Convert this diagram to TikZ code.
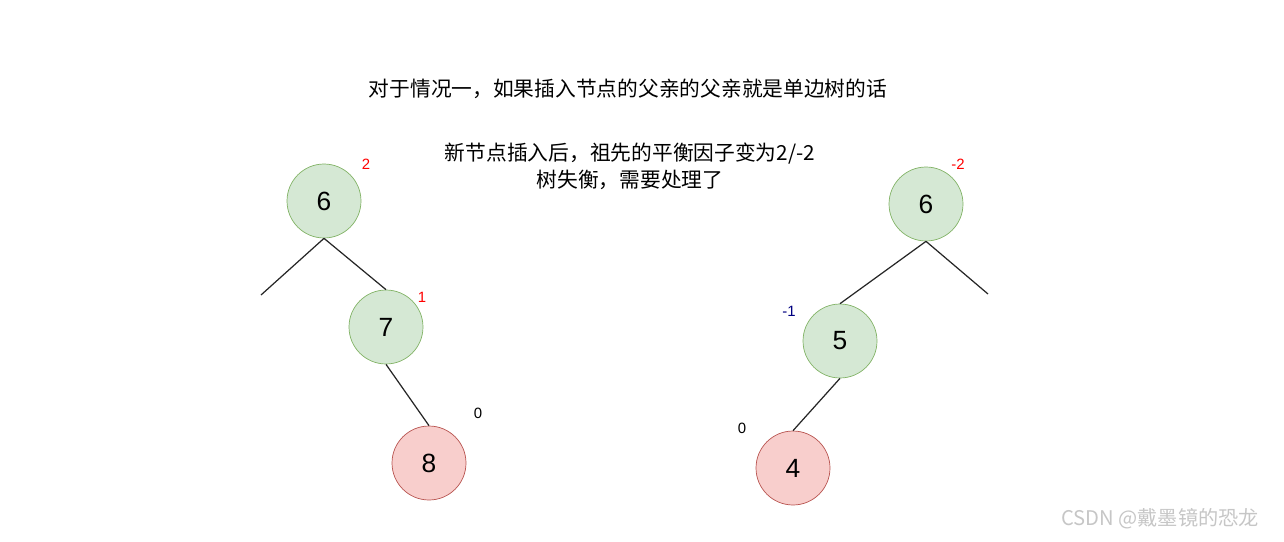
\documentclass[tikz,border=0pt]{standalone}
\usepackage{fontspec}
\setmainfont{Liberation Sans}
\newfontfamily\cjk{Noto Sans CJK SC}
\definecolor{gfill}{HTML}{D5E8D4}
\definecolor{gline}{HTML}{82B366}
\definecolor{rfill}{HTML}{F8CECC}
\definecolor{rline}{HTML}{B85450}
\tikzset{
  avl/.style={circle, minimum size=1.48cm, inner sep=0pt, draw=gline, fill=gfill, font=\fontsize{15}{15}\selectfont},
  newavl/.style={avl, draw=rline, fill=rfill},
  bf/.style={font=\fontsize{8.5}{9}\selectfont},
  edge/.style={draw=black!85, line width=0.7pt},
  note/.style={font=\cjk\fontsize{11.8}{15.5}\selectfont, align=center}
}
\begin{document}
\begin{tikzpicture}[x=0.02cm, y=-0.02cm]
  \useasboundingbox (0,0) rectangle (1284,541);
  % left tree
  \node[avl] (l6) at (324,201) {6};
  \node[avl] (l7) at (386,327) {7};
  \node[newavl] (l8) at (429,463) {8};
  \coordinate (lleft) at (261,295);
  \draw[edge] (l6.south) -- (lleft);
  \draw[edge] (l6.south) -- (l7.north);
  \draw[edge] (l7.south) -- (l8.north);
  \node[bf, red] (bl6) at (366,164) {2};
  \node[bf, red] (bl7) at (422,297) {1};
  \node[bf] (bl8) at (478,413) {0};
  % right tree
  \node[avl] (r6) at (926,204) {6};
  \node[avl] (r5) at (840,341) {5};
  \node[newavl] (r4) at (793,468) {4};
  \coordinate (rright) at (988,294);
  \draw[edge] (r6.south) -- (rright);
  \draw[edge] (r6.south) -- (r5.north);
  \draw[edge] (r5.south) -- (r4.north);
  \node[bf, red] (br6) at (958,164) {-2};
  \node[bf, blue!50!black] (br5) at (789,311) {-1};
  \node[bf] (br4) at (742,428) {0};
  % texts
  \node[note] (title) at (628,89) {对于情况一，如果插入节点的父亲的父亲就是单边树的话};
  \node[note] (info) at (630,166) {新节点插入后，祖先的平衡因子变为2/-2\\树失衡，需要处理了};
  \node[font=\cjk\fontsize{11.5}{12}\selectfont, gray!45] (mark) at (1160,519) {CSDN @戴墨镜的恐龙};
\end{tikzpicture}
\end{document}
